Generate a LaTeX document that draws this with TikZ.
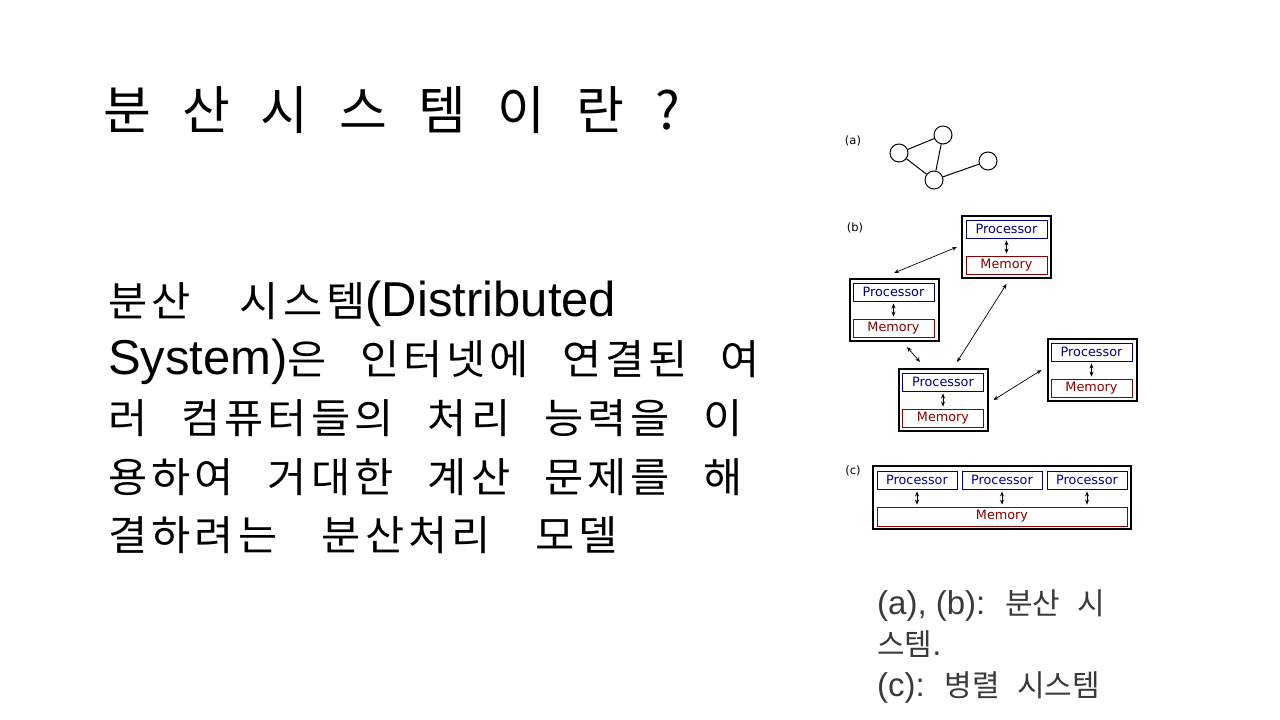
\documentclass[tikz,border=0pt]{standalone}
\usepackage{fontspec}
\setmainfont{Noto Sans CJK KR}
\newfontfamily\krbody{Noto Sans CJK KR}[FakeStretch=1.04, LetterSpace=10, WordSpace=2]
\newfontfamily\krcap{Noto Sans CJK KR}[WordSpace=2.6]
\newfontfamily\latfont{Liberation Sans}
\newfontfamily\dvfont{DejaVu Sans}
\usetikzlibrary{arrows.meta}
\definecolor{procblue}{HTML}{000080}
\definecolor{memred}{HTML}{8B0000}
\definecolor{capgray}{HTML}{3A3A3A}
\newcommand{\tsp}{\hspace{31pt}}
\newcommand{\bodylat}[1]{{\latfont\fontsize{49}{52}\selectfont #1}}
\newcommand{\caplat}[1]{{\latfont\fontsize{33}{36}\selectfont #1}}
\newcommand{\jline}[2]{\makebox[#1pt][s]{#2}}
\begin{document}
\begin{tikzpicture}[x=1pt,y=-1pt,
  outerbox/.style={draw=black, line width=2pt, minimum width=89pt, minimum height=62pt, inner sep=0pt},
  procbox/.style={draw=procblue, line width=0.9pt, text=procblue, font=\dvfont\fontsize{12.8}{14}\selectfont, minimum width=81pt, minimum height=18pt, inner sep=0pt},
  membox/.style={draw=memred, line width=0.9pt, text=memred, font=\dvfont\fontsize{12.8}{14}\selectfont, minimum width=81pt, minimum height=18pt, inner sep=0pt},
  link/.style={{Stealth[length=5pt,width=4pt]}-{Stealth[length=5pt,width=4pt]}, line width=0.7pt},
  circ/.style={draw, circle, line width=1pt, minimum size=18pt, inner sep=0pt},
  lbl/.style={font=\dvfont\fontsize{11.5}{13}\selectfont, inner sep=0pt},
  titletext/.style={font=\fontsize{52}{60}\selectfont, anchor=base west, inner sep=0pt},
  bodytext/.style={font=\krbody\fontsize{41}{45}\selectfont, anchor=base west, inner sep=0pt},
  captext/.style={font=\krcap\fontsize{30}{34}\selectfont, text=capgray, anchor=base west, inner sep=0pt}]
\fill[white] (0,0) rectangle (1280,720);
\useasboundingbox (0,0) rectangle (1280,720);

% title
\node[titletext] (t) at (103,129) {분\tsp 산\tsp 시\tsp 스\tsp 템\tsp 이\tsp 란\tsp ?};

% body
\node[bodytext] (l1) at (108,316) {\jline{508}{분산 시스템\bodylat{(Distributed}}};
\node[bodytext] (l2) at (108,374) {\jline{652}{\bodylat{System)}은 인터넷에 연결된 여}};
\node[bodytext] (l3) at (108,433) {\jline{635}{러 컴퓨터들의 처리 능력을 이}};
\node[bodytext] (l4) at (108,492) {\jline{635}{용하여 거대한 계산 문제를 해}};
\node[bodytext] (l5) at (108,550) {\jline{510}{결하려는 분산처리 모델}};

% caption
\node[captext] (c1) at (877,614) {\caplat{(a), (b):} 분산 시};
\node[captext] (c2) at (877,655) {스템\caplat{.}};
\node[captext] (c3) at (877,696) {\caplat{(c):} 병렬 시스템};

% (a)
\node[lbl] (la) at (853,141) {(a)};
\node[circ] (n1) at (899,153) {};
\node[circ] (n2) at (943,135) {};
\node[circ] (n3) at (934,180) {};
\node[circ] (n4) at (988,161) {};
\draw[line width=1pt] (n1) -- (n2) (n1) -- (n3) (n2) -- (n3) (n3) -- (n4);

% (b)
\node[lbl] (lb) at (855,228) {(b)};
\node[outerbox] (b1) at (1006.5,247) {};
\node[procbox] (p1) at (1006.5,229) {Processor};
\node[membox] (m1) at (1006.5,265) {Memory};
\node[outerbox] (b2) at (894,310) {};
\node[procbox] (p2) at (893.5,292) {Processor};
\node[membox] (m2) at (893.5,328) {Memory};
\node[outerbox] (b3) at (943,400) {};
\node[procbox] (p3) at (943,382) {Processor};
\node[membox] (m3) at (943,418) {Memory};
\node[outerbox] (b4) at (1092,370) {};
\node[procbox] (p4) at (1091.5,352) {Processor};
\node[membox] (m4) at (1091.5,388) {Memory};
\foreach \i in {1,2,3,4}{\draw[link] ([yshift=-2pt]p\i.south) -- ([yshift=2pt]m\i.north);}
\draw[link] ([yshift=5pt]b2.north) -- ([xshift=-4pt]b1.west);
\draw[link] ([xshift=13pt,yshift=-5pt]b2.south) -- ([xshift=-23pt,yshift=6pt]b3.north);
\draw[link] ([xshift=14pt,yshift=6pt]b3.north) -- ([yshift=-5pt]b1.south);
\draw[link] ([xshift=5pt]b3.east) -- ([xshift=-5pt]b4.west);

% (c)
\node[lbl] (lc) at (853,471) {(c)};
\node[outerbox, minimum width=258pt, minimum height=63pt] (bc) at (1002,497.5) {};
\node[procbox, minimum width=80pt] (q1) at (917,480) {Processor};
\node[procbox, minimum width=80pt] (q2) at (1002,480) {Processor};
\node[procbox, minimum width=80pt] (q3) at (1087,480) {Processor};
\node[membox, minimum width=250pt, minimum height=19pt] (mc) at (1002,516.5) {Memory};
\foreach \i in {1,2,3}{\draw[link] ([yshift=-2pt]q\i.south) -- ([yshift=2pt]q\i.south |- mc.north);}
\end{tikzpicture}
\end{document}
